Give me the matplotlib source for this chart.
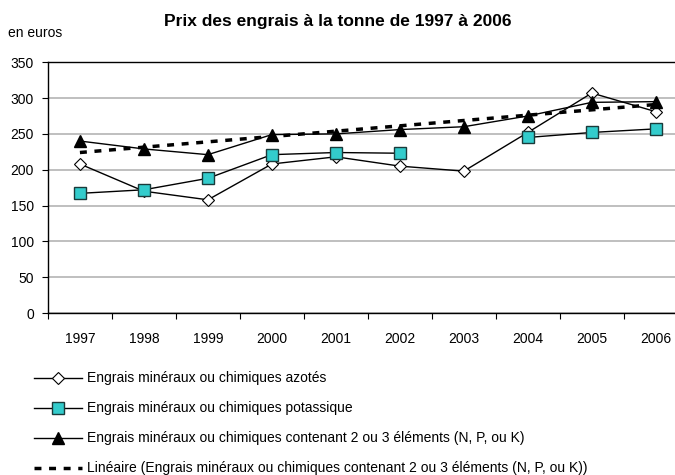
import numpy as np
import matplotlib
matplotlib.use("Agg")
import matplotlib.pyplot as plt

plt.rcParams['font.family'] = ['Liberation Sans', 'DejaVu Sans']

years = ["1997", "1998", "1999", "2000", "2001", "2002", "2003", "2004", "2005", "2006"]
azotes = [208, 170, 158, 208, 218, 205, 198, 252, 307, 281]
potassique = [167, 172, 188, 221, 224, 223, np.nan, 245, 252, 257]
deux_trois = [240, 229, 221, 249, 250, 256, 260, 275, 294, 295]
# trend line ends (1997, 2006)
tendance = [224, 291]

lab_az = "Engrais minéraux ou chimiques azotés"
lab_po = "Engrais minéraux ou chimiques potassique"
lab_23 = "Engrais minéraux ou chimiques contenant 2 ou 3 éléments (N, P, ou K)"
lab_tr = "Linéaire (Engrais minéraux ou chimiques contenant 2 ou 3 éléments (N, P, ou K))"

fig = plt.figure(figsize=(6.75, 4.75), dpi=100)
ax = fig.add_axes([0.071, 0.341, 0.929, 0.528])

x = np.arange(len(years))
ax.plot(x, azotes, color="black", lw=1, marker="D", ms=6.5,
        mfc="white", mec="black", mew=0.8, label=lab_az, zorder=3)
ax.plot(x, potassique, color="black", lw=1, marker="s", ms=8,
        mfc="#33CCCC", mec="#1a3a3a", mew=1, label=lab_po, zorder=4)
ax.plot(x, deux_trois, color="black", lw=1, marker="^", ms=8,
        mfc="black", mec="black", label=lab_23, zorder=5)
ax.plot([x[0], x[-1]], tendance, color="black", lw=2.5,
        ls=(0, (2, 2.2)), label=lab_tr, zorder=6)

ax.set_ylim(0, 350)
ax.set_yticks(range(0, 351, 50))
ax.set_xlim(-0.5, 9.3)
ax.set_xticks(np.arange(-0.5, 9.5, 1), minor=False)
ax.set_xticklabels([])
ax.set_xticks(x, minor=True)
ax.set_xticklabels(years, minor=True)
ax.tick_params(axis="x", which="minor", length=0, pad=14, labelsize=10)
ax.tick_params(axis="x", which="major", direction="out", length=4, width=0.8)
ax.tick_params(axis="y", direction="out", length=4, width=0.8, labelsize=10, pad=6)
ax.grid(axis="y", color="#b4b4b4", lw=1.2)
ax.set_axisbelow(True)
for s in ["left", "bottom", "top"]:
    ax.spines[s].set_color("black")
    ax.spines[s].set_linewidth(1)
ax.spines["right"].set_visible(False)

fig.text(0.5, 0.955, "Prix des engrais à la tonne de 1997 à 2006",
         ha="center", va="center", fontsize=12.5, fontweight="bold")
fig.text(0.012, 0.93, "en euros", ha="left", va="center", fontsize=10)

fig.legend(loc="upper left", bbox_to_anchor=(0.05, 0.218), frameon=False,
           fontsize=10, handlelength=3.5, handletextpad=0.35, labelspacing=1.15,
           borderaxespad=0, borderpad=0)

fig.savefig("out.png", dpi=100)
